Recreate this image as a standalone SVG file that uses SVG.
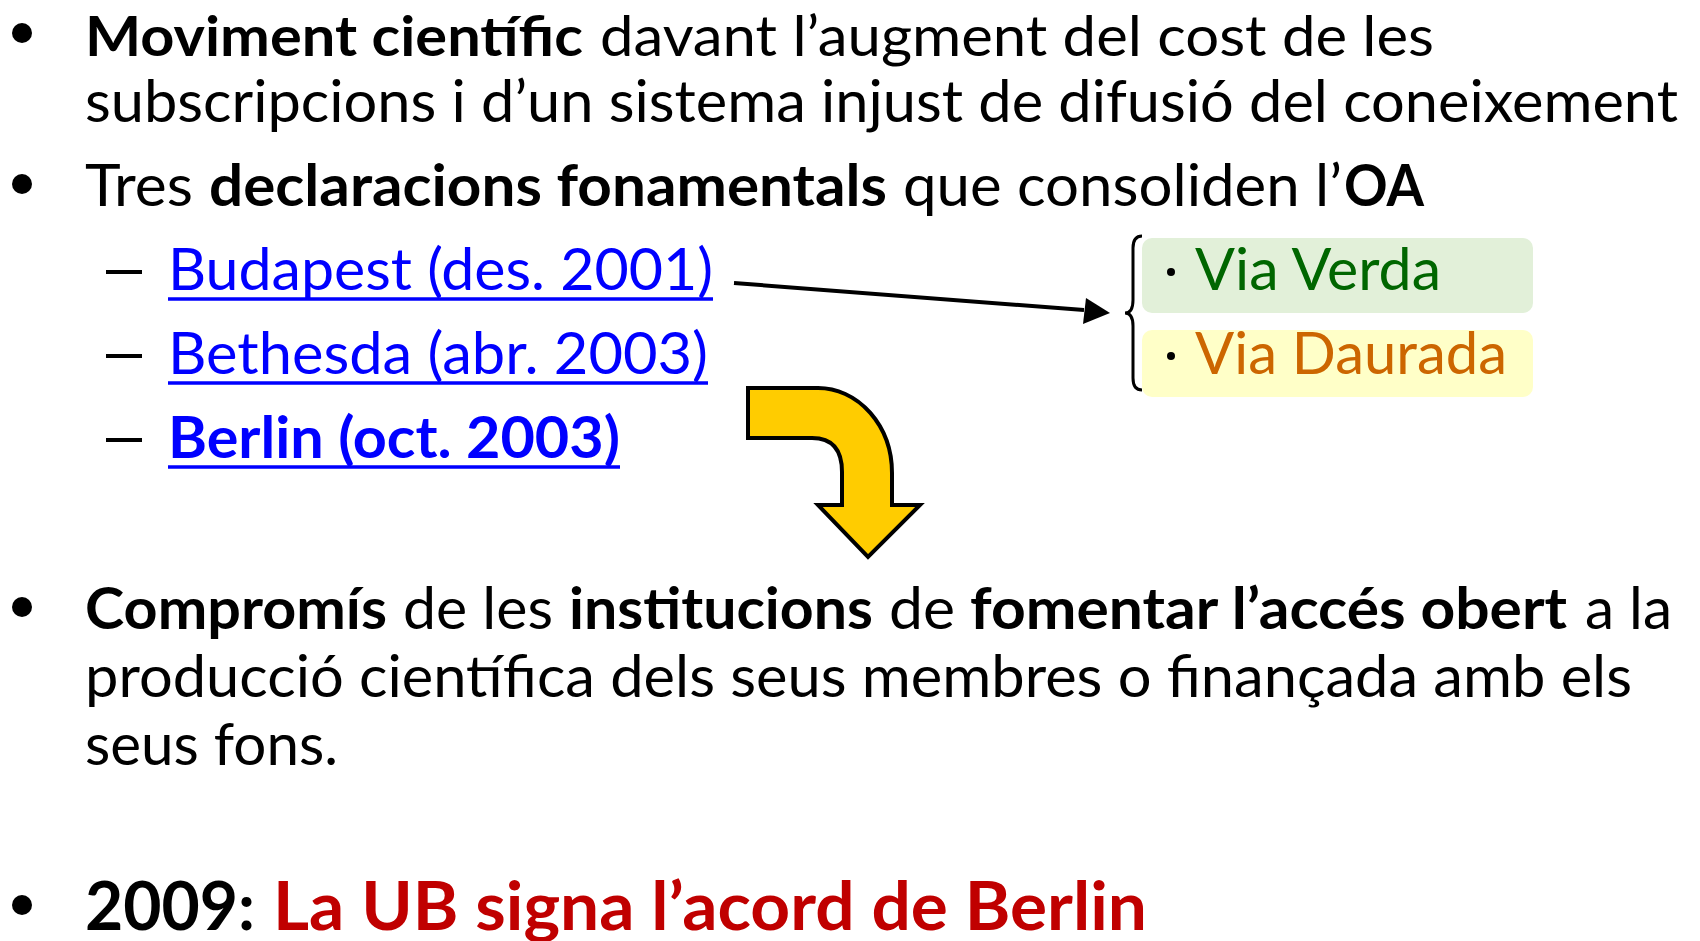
<svg xmlns="http://www.w3.org/2000/svg" width="1700" height="941" viewBox="0 0 1700 941">
<style>
text{font-family:Lato,"Open Sans","Liberation Sans",sans-serif;font-size:58px;fill:#000}
.b{font-weight:bold}
.top{font-size:56px}
.lnk{fill:#0000FF}
.ul{stroke:#0000FF;stroke-width:3.5}
.dash{stroke:#000;stroke-width:4}
.big{font-size:66px;font-weight:bold}
.red{fill:#C00000}
</style>
<rect width="1700" height="941" fill="#fff"/>
<g id="bullet1">
<circle cx="22" cy="33" r="10"/>
<text y="56" x="85" class="b top" textLength="498" lengthAdjust="spacingAndGlyphs">Moviment científic</text>
<text y="56" x="600" class="top" textLength="834" lengthAdjust="spacingAndGlyphs">davant l’augment del cost de les</text>
<text y="122" x="85" textLength="1593" lengthAdjust="spacingAndGlyphs">subscripcions i d’un sistema injust de difusió del coneixement</text>
</g>
<g id="bullet2">
<circle cx="22" cy="184" r="10"/>
<text y="206" x="85" textLength="108" lengthAdjust="spacingAndGlyphs">Tres</text>
<text y="206" x="209" class="b" textLength="678" lengthAdjust="spacingAndGlyphs">declaracions fonamentals</text>
<text y="206" x="903" textLength="439" lengthAdjust="spacingAndGlyphs">que consoliden l’</text>
<text y="206" x="1344" class="b" textLength="80" lengthAdjust="spacingAndGlyphs">OA</text>
</g>
<g id="budapest">
<line class="dash" x1="106" y1="272" x2="142" y2="272"/>
<text class="lnk" y="290" x="168" textLength="545" lengthAdjust="spacingAndGlyphs">Budapest (des. 2001)</text>
<line class="ul" x1="168" y1="299" x2="713" y2="299"/>
</g>
<g id="bethesda">
<line class="dash" x1="106" y1="356" x2="142" y2="356"/>
<text class="lnk" y="374" x="168" textLength="540" lengthAdjust="spacingAndGlyphs">Bethesda (abr. 2003)</text>
<line class="ul" x1="168" y1="383" x2="708" y2="383"/>
</g>
<g id="berlin">
<line class="dash" x1="106" y1="440" x2="142" y2="440"/>
<text class="lnk b" y="458" x="168" textLength="452" lengthAdjust="spacingAndGlyphs">Berlin (oct. 2003)</text>
<line class="ul" x1="168" y1="467" x2="620" y2="467"/>
</g>
<g id="vies">
<path d="M1142,236 Q1133,236 1133,248 V300 Q1133,313 1125,313 Q1133,313 1133,326 V378 Q1133,390 1142,390" fill="none" stroke="#000" stroke-width="3"/>
<g id="via-verda">
<rect x="1142" y="238" width="391" height="75" rx="10" fill="#E2F0D9"/>
<circle cx="1171" cy="272" r="4"/>
<text y="290" x="1195" style="fill:#006600" textLength="246" lengthAdjust="spacingAndGlyphs">Via Verda</text>
</g>
<g id="via-daurada">
<rect x="1142" y="330" width="391" height="67" rx="10" fill="#FFFFC8"/>
<circle cx="1171" cy="356" r="4"/>
<text y="374" x="1195" style="fill:#CC6600" textLength="312" lengthAdjust="spacingAndGlyphs">Via Daurada</text>
</g>
</g>
<g id="connectors">
<line x1="734" y1="283" x2="1084" y2="310" stroke="#000" stroke-width="4"/>
<path d="M1110,313 L1083,324 L1086,298 Z" fill="#000"/>
<path d="M748,388 H818 A74,85 0 0 1 892,473 V505 H920 L868,557 L818,505 H842 V472 Q842,438 812,438 H748 Z" fill="#FFCC00" stroke="#000" stroke-width="4" stroke-linejoin="miter"/>
</g>
<g id="bullet3">
<circle cx="22" cy="607" r="10"/>
<text y="629" x="85" class="b" textLength="302" lengthAdjust="spacingAndGlyphs">Compromís</text>
<text y="629" x="403" textLength="150" lengthAdjust="spacingAndGlyphs">de les</text>
<text y="629" x="569" class="b" textLength="304" lengthAdjust="spacingAndGlyphs">institucions</text>
<text y="629" x="889" textLength="66" lengthAdjust="spacingAndGlyphs">de</text>
<text y="629" x="970" class="b" textLength="597" lengthAdjust="spacingAndGlyphs">fomentar l’accés obert</text>
<text y="629" x="1585" textLength="87" lengthAdjust="spacingAndGlyphs">a la</text>
<text y="697" x="85" textLength="1547" lengthAdjust="spacingAndGlyphs">producció científica dels seus membres o finançada amb els</text>
<text y="765" x="85" textLength="253" lengthAdjust="spacingAndGlyphs">seus fons.</text>
</g>
<g id="bullet4">
<circle cx="22" cy="905" r="10"/>
<text y="930" x="85" class="big" textLength="170" lengthAdjust="spacingAndGlyphs">2009:</text>
<text y="930" x="273" class="big red" textLength="874" lengthAdjust="spacingAndGlyphs">La UB signa l’acord de Berlin</text>
</g>
</svg>
